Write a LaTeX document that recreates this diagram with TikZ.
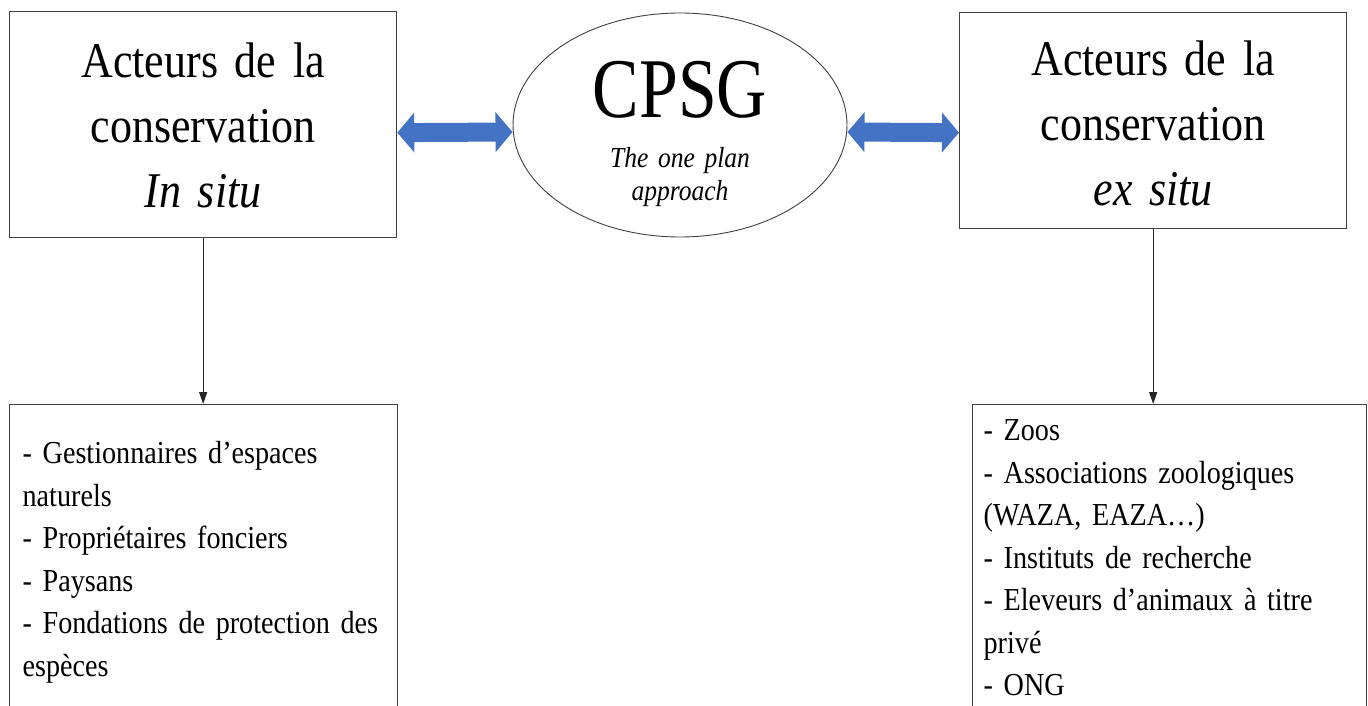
\documentclass[tikz,border=0pt]{standalone}
\usepackage{fontspec}
\setmainfont{Liberation Serif}[FakeStretch=0.88]
\newfontfamily\cpsgfont{Liberation Serif}[FakeStretch=0.82]
\usetikzlibrary{shapes.geometric,arrows.meta}
\definecolor{arrowblue}{HTML}{4472C4}
\definecolor{boxline}{HTML}{404040}
\newcommand\topfnt{\fontsize{50}{65}\selectfont\spaceskip=11pt plus 3pt minus 2pt\relax}
\newcommand\listfnt{\fontsize{32}{42.5}\selectfont\spaceskip=6pt plus 2pt minus 1pt\relax}
\newcommand\ellfnt{\fontsize{29}{33}\selectfont\spaceskip=6.5pt plus 2pt minus 1pt\relax}
\begin{document}
\begin{tikzpicture}[x=1pt,y=-1pt,
  topbox/.style={draw=boxline, line width=1.3pt, anchor=north west, inner sep=0pt,
    text width=#1, align=center, font=\topfnt},
  listbox/.style={draw=boxline, line width=1.3pt, anchor=north west, inner ysep=0pt,
    align=left, font=\listfnt},
  bluearrow/.style={line width=19pt, arrowblue,
    {Triangle[width=39pt 0 0,length=17pt 0 0]}-{Triangle[width=39pt 0 0,length=17pt 0 0]}},
  downarrow/.style={line width=1.2pt, black!85, -{Triangle[width=8pt 0 0,length=12pt 0 0]}}
]
\useasboundingbox (0,0) rectangle (1368,706);
\clip (0,0) rectangle (1368,706);
\fill[white] (0,0) rectangle (1368,706);

\node[topbox=387pt, text height=66pt, text depth=160pt] (lt) at (9,11)
  {Acteurs de la\\conservation\\\textit{In situ}};
\node[topbox=387pt, text height=63pt, text depth=153pt] (rt) at (959,12)
  {Acteurs de la\\conservation\\\textit{ex situ}};

\node[ellipse, draw=boxline, line width=0.9pt, minimum width=334pt, minimum height=224pt,
  inner sep=0pt, text width=220pt, align=center, text height=50pt, text depth=64pt,
  font=\ellfnt] (cp) at (680,125)
  {{\cpsgfont\fontsize{85}{85}\selectfont CPSG}\\[17pt]\textit{The one plan}\\\textit{approach}};

\node[listbox, text width=362pt, inner xsep=13pt, text height=59pt, text depth=262pt] (lb) at (9,404)
  {- Gestionnaires d’espaces\\naturels\\- Propriétaires fonciers\\- Paysans\\- Fondations de protection des\\espèces};
\node[listbox, text width=372pt, inner xsep=11pt, text height=36pt, text depth=285pt] (rb) at (972,404)
  {- Zoos\\- Associations zoologiques\\(WAZA, EAZA…)\\- Instituts de recherche\\- Eleveurs d’animaux à titre\\privé\\- ONG};

\draw[bluearrow] ([yshift=-8pt]lt.east) -- ([yshift=-7pt]cp.west);
\draw[bluearrow] ([yshift=-7pt]cp.east) -- ([yshift=-12pt]rt.west);

\draw[downarrow] (lt.south) -- (lt.south |- lb.north);
\draw[downarrow] (rt.south) -- (rt.south |- rb.north);
\end{tikzpicture}
\end{document}
